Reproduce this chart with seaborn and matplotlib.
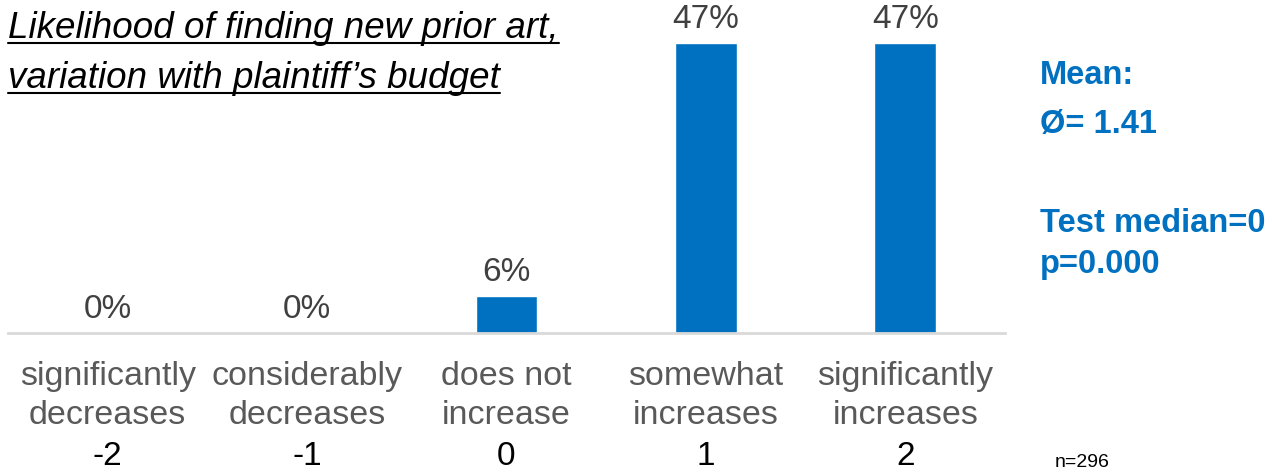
import pandas as pd
import numpy as np
import seaborn as sns
import matplotlib.pyplot as plt
from matplotlib.lines import Line2D

answers = ["significantly\ndecreases", "considerably\ndecreases", "does not\nincrease",
           "somewhat\nincreases", "significantly\nincreases"]
scores = ["-2", "-1", "0", "1", "2"]
shares = [0, 0, 6, 47, 47]

df = pd.DataFrame({"answer": answers, "share": shares})

sns.set_style("white")
plt.rcParams["font.family"] = ["Liberation Sans", "DejaVu Sans"]

blue = "#0070C0"
fig = plt.figure(figsize=(12.79, 4.73), dpi=100)
ax = fig.add_axes([8 / 1279, 140 / 473, 997 / 1279, 290 / 473])

sns.barplot(data=df, x="answer", y="share", color=blue, width=0.31,
            saturation=1, ax=ax)
ax.set_xlim(-0.5, 4.5)
ax.set_ylim(0, 47)
ax.set_xlabel("")
ax.set_ylabel("")
ax.set_yticks([])
for s in ["top", "left", "right"]:
    ax.spines[s].set_visible(False)
ax.spines["bottom"].set_color("#D9D9D9")
ax.spines["bottom"].set_linewidth(2)
ax.tick_params(axis="x", length=0, pad=20.5, labelsize=24.5, labelcolor="#595959")
for lab in ax.get_xticklabels():
    lab.set_linespacing(1.3)

for i, v in enumerate(shares):
    ax.annotate(f"{v}%", (i, v), xytext=(0, 6), textcoords="offset points",
                ha="center", va="bottom", fontsize=24, color="#404040",
                annotation_clip=False)
    ax.text(i, -0.425, scores[i], transform=ax.get_xaxis_transform(),
            ha="center", va="center", fontsize=24, color="black")

fig.text(1055 / 1279, 1 - 462 / 473, "n=296", fontsize=14, va="center", color="black")

for txt, y in [("Mean:", 75), ("Ø= 1.41", 125), ("Test median=0", 223), ("p=0.000", 265)]:
    fig.text(1040 / 1279, 1 - y / 473, txt, fontsize=23.5, fontweight="bold",
             color=blue, va="center")

# underlined italic title
fig.canvas.draw()
r = fig.canvas.get_renderer()
for txt, y in [("Likelihood of finding new prior art,", 28), ("variation with plaintiff’s budget", 78)]:
    t = fig.text(8 / 1279, 1 - y / 473, txt, fontsize=26.5, style="italic",
                 va="center", color="black")
    bb = t.get_window_extent(r)
    fig.add_artist(Line2D([bb.x0 / 1279, bb.x1 / 1279], [1 - (y + 15) / 473] * 2,
                          color="black", lw=1.5, transform=fig.transFigure))

fig.savefig("out.png", dpi=100)
